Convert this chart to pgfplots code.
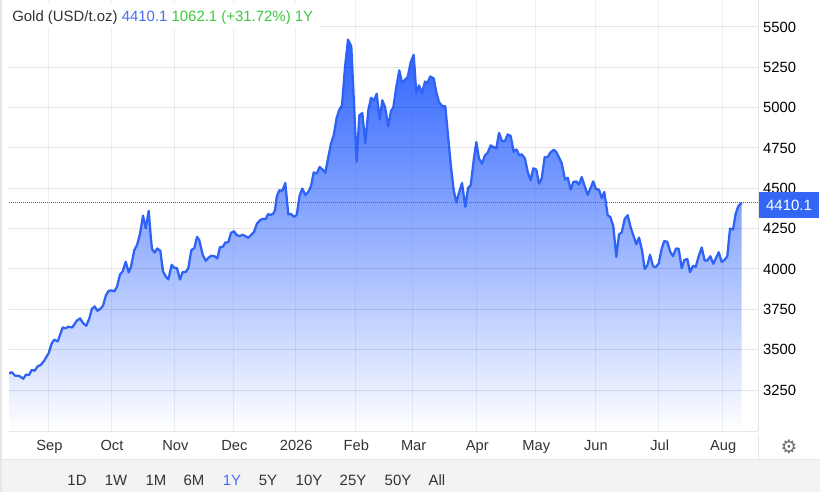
\documentclass[border=0pt]{standalone}
\usepackage{pgfplots}
\usepackage{pgfplotstable}
\usepackage{fontspec}
\setmainfont{Liberation Sans}
\newfontfamily\dejavu{DejaVu Sans}
\pgfplotsset{compat=1.18}
\definecolor{linec}{HTML}{2F63F5}
\definecolor{fillc}{HTML}{2A60FF}
\definecolor{txt}{HTML}{333333}
\definecolor{titleblue}{HTML}{4A6CF0}
\definecolor{titlegreen}{HTML}{3CC83C}
\definecolor{foot}{HTML}{F3F3F3}
\definecolor{edge}{HTML}{E6E6E6}
\definecolor{boxblue}{HTML}{3366F5}
\definecolor{vgrid}{HTML}{3A6A9A}
\pgfplotstableread{
x y
9 3353
11.7 3360
15 3339
19.3 3337
23.3 3320
26 3345
29 3343
31.7 3374
34.7 3370
37.7 3397
40.7 3405
44 3430
48.7 3479
51.7 3539
54.3 3562
57.7 3551
62.7 3638
65.7 3632
68.3 3642
72.3 3638
76.7 3679
80 3694
83.3 3663
86.3 3648
89.3 3694
92 3754
94.7 3768
97.3 3741
100 3752
103 3772
106 3838
108.7 3865
111.7 3867
114.3 3861
117 3890
120 3966
122.7 3985
125.7 4045
128.7 3979
131 4014
134.3 4117
137 4148
140 4216
143 4331
145.7 4253
148.7 4360
150.7 4205
152 4123
154.7 4102
157.3 4127
160.3 4113
163 3985
165.7 3954
168.3 3935
171.7 4026
174 4009
177 4005
180 3935
182.7 3981
185.7 3981
188.3 4005
191.3 4117
194.3 4129
197 4199
199.3 4179
202.7 4088
205.7 4051
208.7 4071
211.3 4082
214.3 4080
217.3 4065
220 4137
222.7 4137
225.3 4164
228.3 4166
231 4224
234 4234
236.7 4210
240 4205
242.7 4212
245.7 4203
248.3 4193
251.3 4212
254 4230
257 4282
260 4302
262.7 4311
265.7 4309
268 4340
270.7 4335
273.3 4344
275 4364
276.7 4447
279.3 4488
282.3 4484
285.3 4533
288.3 4339
291 4341
294 4323
296.7 4335
299.7 4457
302.3 4498
305.3 4459
308.3 4478
311 4513
313.7 4599
316.7 4591
319.7 4632
322.3 4618
325.3 4597
328.3 4694
331 4777
333.7 4828
336.7 4938
339.3 4987
342 5014
345 5251
348 5422
351.3 5379
354 5024
356.7 4663
359.3 4952
362.3 4966
365.3 4781
368.3 4983
371 5061
374 5045
376.7 5086
379.7 4925
382.3 5045
385 5004
388.3 4884
391 4979
393.3 5000
396 5117
399.3 5231
402 5154
405 5173
407.7 5189
410.7 5282
413.7 5327
416.3 5090
419 5138
422 5090
425 5162
427.3 5152
430.3 5193
433.7 5181
436.3 5096
439 5035
441.7 5012
445.3 5008
448.3 4808
451 4632
453.7 4488
456.3 4412
459.3 4478
462 4533
465.3 4385
468 4502
470.7 4519
473.7 4674
476.3 4787
479 4684
482 4653
485 4704
487.7 4721
490.7 4766
493.3 4756
496.3 4748
499 4843
502 4793
505 4793
507.7 4834
510.7 4824
513.7 4725
515 4739
516.7 4739
519.3 4704
521.7 4711
525 4684
527.7 4601
530.7 4550
533.3 4624
536.3 4616
539 4529
541.7 4560
544.7 4694
547.7 4694
550.3 4721
553.7 4739
556.3 4725
561.7 4657
565 4554
567.7 4566
570.7 4492
573.3 4539
576.3 4543
579 4523
581.7 4570
584.7 4513
587.7 4459
593.3 4543
596 4494
599 4492
601.7 4440
604.3 4477
607.7 4333
610.3 4323
613.3 4265
616.3 4075
619 4215
621.7 4226
624.7 4310
627.7 4333
630.7 4257
633.3 4209
636.3 4154
639 4195
642 4116
644.7 4001
647.3 4022
650 4088
653 4017
655.7 4011
658.7 4034
661.7 4127
664.3 4174
667.3 4168
670.3 4106
673 4079
676 4127
678.7 4125
681.7 4005
684.3 4055
687.3 4063
690 3980
693 4019
695.7 4013
698.7 4079
701.7 4133
704.7 4052
707.3 4052
710.3 4079
713.3 4032
718.7 4104
721.7 4044
724.3 4055
727.3 4079
730 4250
733 4244
735.7 4343
738.3 4389
741.7 4410
}\golddata
\begin{document}
\begin{tikzpicture}[x=0.75pt,y=-0.75pt,font=\fontsize{11.2pt}{13pt}\selectfont]
\useasboundingbox (0,0) rectangle (825,492);
\fill[white] (0,0) rectangle (825,492);
\begin{axis}[
  at={(9pt*0.75,-431pt*0.75)}, anchor=south west,
  scale only axis, width=749*0.75pt, height=431*0.75pt,
  xmin=9, xmax=758, ymin=2996, ymax=5667,
  axis x line*=bottom, axis y line*=right,
  axis line style={draw=edge,line width=0.75pt},
  axis on top,
  xtick={48.5,111,174.5,233.5,295.3,355.4,412.7,476.3,535.3,595,658.7,722.3},
  xticklabels={Sep,Oct,Nov,Dec,2026,Feb,Mar,Apr,May,Jun,Jul,Aug},
  ytick={3250,3500,3750,4000,4250,4500,4750,5000,5250,5500},
  yticklabel style={/pgf/number format/1000 sep={},/pgf/number format/assume math mode=true,text=black,font=\fontsize{11.1pt}{13pt}\selectfont,xshift=0.3pt},
  xticklabel style={text=txt,font=\fontsize{11pt}{13pt}\selectfont,text height=8pt,text depth=0pt,anchor=north,yshift=-3.2pt,xshift=0.7pt},
  major tick length=4.5pt,
  xtick style={draw=none},
  ytick style={draw=edge,line width=0.75pt},
  xmajorgrids, ymajorgrids,
  x grid style={draw=vgrid,draw opacity=0.10,line width=0.75pt},
  y grid style={draw=black,draw opacity=0.10,line width=0.75pt},
  clip=true,
]
\addplot[draw=none,top color=fillc,bottom color=white,shading angle=0] table[x=x,y=y] {\golddata} \closedcycle;
\addplot[draw=linec,line width=1.7pt,line join=round] table[x=x,y=y] {\golddata};
\end{axis}
% price line and label
\draw[linec,line width=0.75pt,dash pattern=on 0.75pt off 0.75pt] (9,202.5) -- (758,202.5);
\fill[boxblue] (758.5,192) rectangle (819,218);
\node[text=white,anchor=base,inner sep=0pt] at (789,210) {4410.1};
% title
\fill[white] (9,3) rectangle (320,28);
\node[anchor=base west,inner sep=0pt] at (12,22) {\textcolor{txt}{Gold (USD/t.oz)} \textcolor{titleblue}{4410.1} \textcolor{titlegreen}{1062.1 (+31.72\%) 1Y}};
% footer
\fill[foot] (1,459) rectangle (820,492);
\draw[edge,line width=0.75pt] (1,459) -- (820,459);
\draw[edge,line width=0.75pt] (758.5,434) -- (758.5,459);
\fill[edge] (0,0) rectangle (1.5,492);
\node[text=gray!85!black,font=\dejavu\fontsize{14pt}{14pt}\selectfont] at (789,447) {⚙};
\foreach \xx/\lab in {77/1D,116/1W,156/1M,194/6M,268/5Y,309/10Y,353/25Y,398/50Y,437/All}
  \node[text=txt,anchor=base,inner sep=0pt] at (\xx,485) {\lab};
\node[text=titleblue,anchor=base,inner sep=0pt] at (232,485) {1Y};
\end{tikzpicture}
\end{document}
